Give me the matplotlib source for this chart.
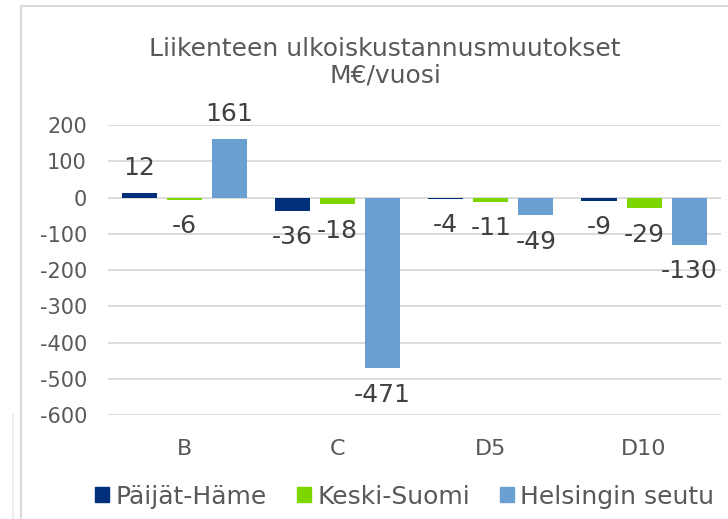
import numpy as np
import matplotlib
matplotlib.use("Agg")
import matplotlib.pyplot as plt
from matplotlib.patches import Rectangle
from matplotlib.lines import Line2D

# data
categories = ['B', 'C', 'D5', 'D10']
paijat_hame = [12, -36, -4, -9]
keski_suomi = [-6, -18, -11, -29]
helsingin_seutu = [161, -471, -49, -130]
series_names = ['Päijät-Häme', 'Keski-Suomi', 'Helsingin seutu']
colors = ['#00307a', '#7ed600', '#6a9fd2']

text_col = '#595959'
grid_col = '#d9d9d9'

plt.rcParams['font.family'] = ['DejaVu Sans']
plt.rcParams['axes.unicode_minus'] = False

fig = plt.figure(figsize=(7.28, 5.19), dpi=100)
ax = fig.add_axes([0.148, 0.200, 0.842, 0.559])

x = np.arange(len(categories))
step = 0.294
width = 0.229
all_series = [paijat_hame, keski_suomi, helsingin_seutu]
for i, (vals, col) in enumerate(zip(all_series, colors)):
    pos = x + (i - 1) * step
    ax.bar(pos, vals, width=width, color=col, zorder=3)
    for px, v in zip(pos, vals):
        off = 18 if v >= 0 else -19
        ax.annotate(str(v), (px, v), xytext=(0, off), textcoords='offset points',
                    ha='center', va='center', fontsize=18, color='#404040', zorder=4)

ax.set_xlim(-0.5, len(categories) - 0.5)
ax.set_ylim(-600, 200)
ax.set_yticks(range(-600, 201, 100))
ax.set_xticks(x)
ax.set_xticklabels(categories)
ax.grid(axis='y', color=grid_col, linewidth=1.3, zorder=0)
for s in ax.spines.values():
    s.set_visible(False)
ax.tick_params(axis='both', length=0, labelsize=15, colors=text_col)
ax.tick_params(axis='x', pad=17, labelsize=16)
ax.tick_params(axis='y', pad=15)

fig.text(0.529, 0.88, 'Liikenteen ulkoiskustannusmuutokset\nM€/vuosi', ha='center', va='center',
         fontsize=18, color=text_col, linespacing=1.15)

handles = [Rectangle((0, 0), 1, 1, color=c) for c in colors]
fig.legend(handles, series_names, loc='center', bbox_to_anchor=(0.556, 0.043), ncol=3,
           frameon=False, fontsize=18, labelcolor=text_col, handlelength=0.56, handleheight=0.56,
           handletextpad=0.25, columnspacing=1.2)

# chart border
fig.add_artist(Line2D([0.029, 0.029], [0, 0.989], color=grid_col, linewidth=1.5))
fig.add_artist(Line2D([0.029, 1.0], [0.989, 0.989], color=grid_col, linewidth=1.5))
fig.add_artist(Line2D([0.018, 0.018], [0, 0.2], color='#eeeeee', linewidth=1.5))

fig.savefig('out.png', dpi=100)
